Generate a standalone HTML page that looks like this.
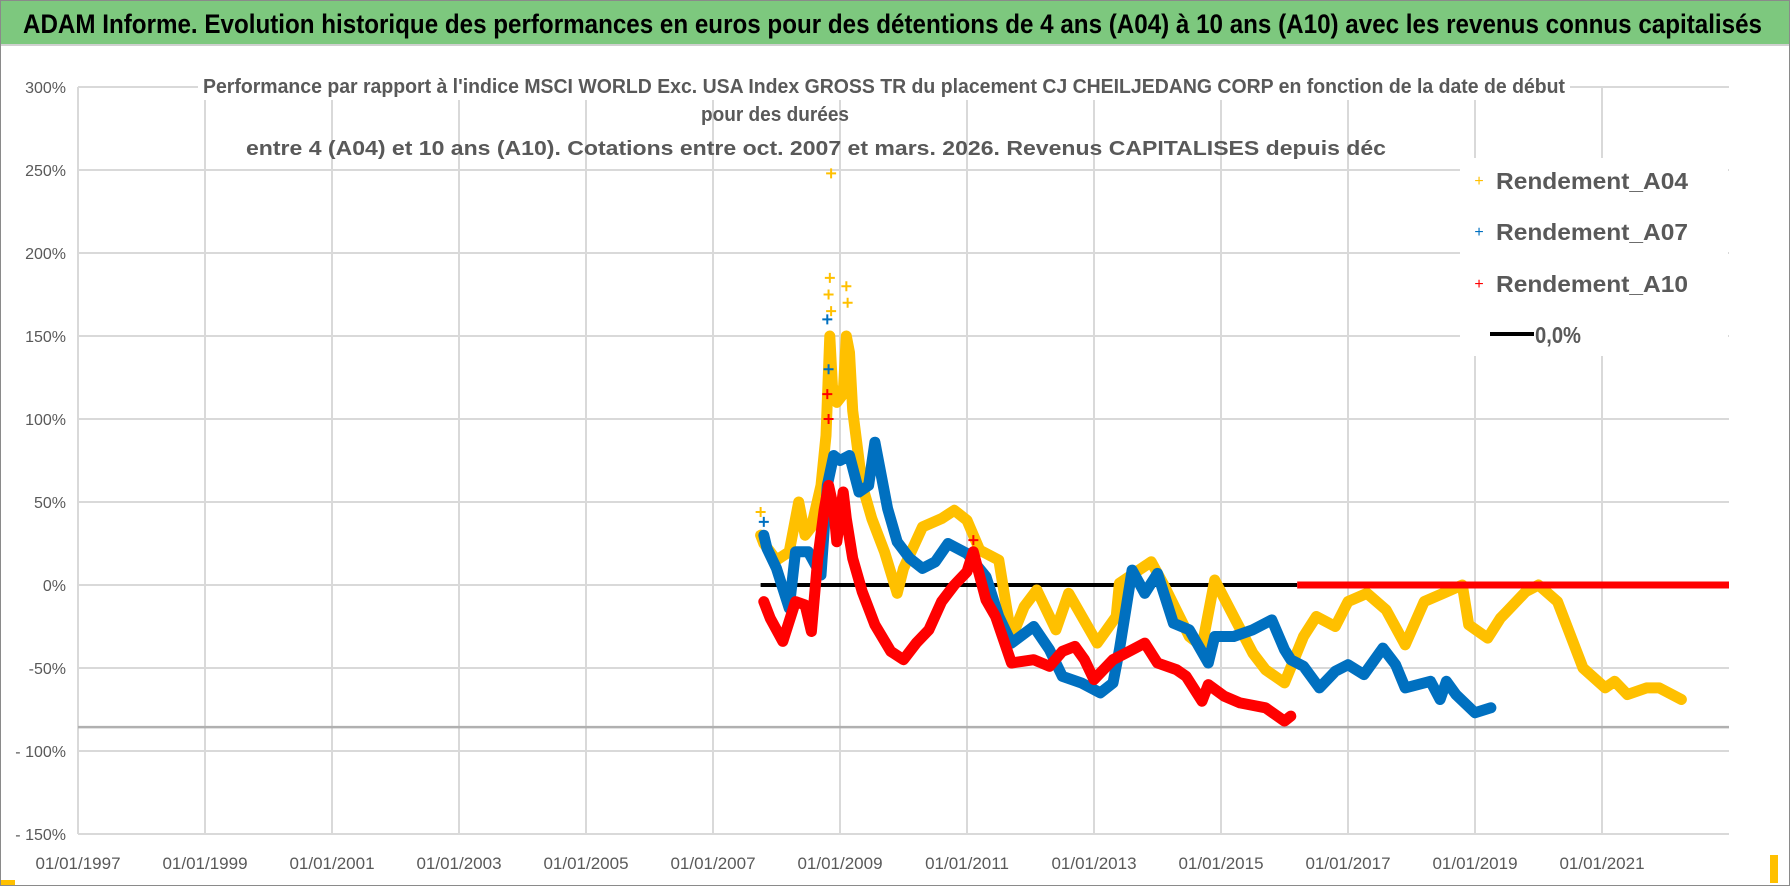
<!DOCTYPE html>
<html><head><meta charset="utf-8"><style>
html,body{margin:0;padding:0;background:#fff}
svg{display:block}
text{font-family:"Liberation Sans Narrow","Liberation Sans",sans-serif}
</style></head><body>
<svg id="chart" width="1790" height="886" viewBox="0 0 1790 886" xmlns="http://www.w3.org/2000/svg">
<rect x="0.5" y="0.5" width="1789" height="885" fill="#fff" stroke="#8a8a8a"/>
<rect x="1" y="1" width="1788" height="43" fill="#7dc87e"/>
<line x1="1" y1="45" x2="1789" y2="45" stroke="#d0d0d0" stroke-width="2"/>
<text x="23" y="33" font-size="27" font-weight="bold" fill="#000" textLength="1739" lengthAdjust="spacingAndGlyphs">ADAM Informe. Evolution historique des performances en euros pour des détentions de 4 ans (A04) à 10 ans (A10) avec les revenus connus capitalisés</text>
<g id="grid"></g>
<g id="yaxis"></g>
<g id="xaxis"></g>
<g id="series"></g>
<g>
<rect x="198" y="72" width="1372" height="28" fill="#fff"/>
<text x="203" y="93" font-size="20" font-weight="bold" fill="#595959" textLength="1362" lengthAdjust="spacingAndGlyphs">Performance par rapport à l'indice MSCI WORLD Exc. USA Index GROSS TR  du placement CJ CHEILJEDANG CORP en fonction de la date de début</text>
<text x="775" y="121" font-size="20" font-weight="bold" fill="#595959" text-anchor="middle" textLength="148" lengthAdjust="spacingAndGlyphs">pour des durées</text>
<text x="246" y="155" font-size="20" font-weight="bold" fill="#595959" textLength="1140" lengthAdjust="spacingAndGlyphs">entre 4 (A04) et 10 ans (A10).  Cotations entre oct. 2007 et mars. 2026. Revenus CAPITALISES depuis déc</text>
</g>
<g>
<rect x="1460" y="158" width="268" height="198" fill="#fff"/>
<g><text x="1479" y="186" font-size="16" fill="#ffc000" text-anchor="middle">+</text><text x="1496" y="189" font-size="23" font-weight="bold" fill="#595959" textLength="192" lengthAdjust="spacingAndGlyphs">Rendement_A04</text></g>
<g><text x="1479" y="237" font-size="16" fill="#0070c0" text-anchor="middle">+</text><text x="1496" y="240" font-size="23" font-weight="bold" fill="#595959" textLength="192" lengthAdjust="spacingAndGlyphs">Rendement_A07</text></g>
<g><text x="1479" y="289" font-size="16" fill="#ff0000" text-anchor="middle">+</text><text x="1496" y="292" font-size="23" font-weight="bold" fill="#595959" textLength="192" lengthAdjust="spacingAndGlyphs">Rendement_A10</text></g>
<g><line x1="1490" y1="334" x2="1534" y2="334" stroke="#000" stroke-width="4"/><text x="1535" y="343" font-size="23" font-weight="bold" fill="#595959" textLength="46" lengthAdjust="spacingAndGlyphs">0,0%</text></g>
</g>
<rect x="1770" y="855" width="8" height="28" fill="#ffc000"/>
<rect x="1" y="880" width="14" height="5" fill="#ffc000"/>
</svg>
<script>
// ---- data ----
const yTicks = [300,250,200,150,100,50,0,-50,-100,-150];
const yTickLabels = ["300%","250%","200%","150%","100%","50%","0%","-50%","- 100%","- 150%"];
const xTickYears = [1997,1999,2001,2003,2005,2007,2009,2011,2013,2015,2017,2019,2021];
const xTickLabels = ["01/01/1997","01/01/1999","01/01/2001","01/01/2003","01/01/2005","01/01/2007","01/01/2009","01/01/2011","01/01/2013","01/01/2015","01/01/2017","01/01/2019","01/01/2021"];
const axisCross = -85.6;

const a04Dates = [2007.75,2007.8,2008.0,2008.2,2008.35,2008.45,2008.55,2008.7,2008.78,2008.84,2008.88,2008.95,2009.05,2009.1,2009.15,2009.2,2009.35,2009.5,2009.7,2009.9,2010.0,2010.3,2010.6,2010.8,2011.0,2011.2,2011.5,2011.7,2011.9,2012.1,2012.4,2012.6,2013.05,2013.35,2013.4,2013.9,2014.1,2014.5,2014.7,2014.9,2015.2,2015.5,2015.7,2016.0,2016.3,2016.5,2016.8,2017.0,2017.3,2017.6,2017.9,2018.2,2018.5,2018.8,2018.9,2019.2,2019.4,2019.5,2019.8,2020.0,2020.3,2020.7,2021.05,2021.2,2021.4,2021.7,2021.9,2022.25];
const a04Values = [30,25,15,20,50,30,35,60,90,150,120,110,115,150,140,105,60,40,20,-5,10,35,40,45,39,21,15,-32,-13,-3,-27,-5,-35,-19,1,14,0,-31,-37,3,-19,-41,-51,-59,-31,-19,-25,-10,-5,-15,-36,-10,-5,0,-24,-32,-20,-16,-4,0,-10,-50,-62,-58,-66,-62,-62,-69];
const a04OutDates = [2007.75,2008.82,2008.84,2008.86,2009.1,2009.12,2008.86];
const a04OutValues = [44,175,185,165,180,170,248];

const a07Dates = [2007.8,2007.85,2008.0,2008.2,2008.3,2008.5,2008.7,2008.8,2008.9,2009.0,2009.15,2009.3,2009.45,2009.55,2009.75,2009.9,2010.1,2010.3,2010.5,2010.7,2011.0,2011.3,2011.5,2011.7,2012.05,2012.3,2012.5,2012.8,2013.1,2013.3,2013.4,2013.5,2013.6,2013.8,2014.0,2014.25,2014.5,2014.8,2014.9,2015.2,2015.5,2015.8,2016.0,2016.1,2016.3,2016.55,2016.8,2017.0,2017.25,2017.4,2017.55,2017.75,2017.9,2018.3,2018.45,2018.55,2018.7,2019.0,2019.25];
const a07Values = [30,22,10,-14,20,20,6,60,78,75,78,56,60,86,46,26,16,10,14,25,19,5,-19,-35,-25,-39,-55,-59,-65,-59,-39,-15,9,-5,7,-23,-27,-47,-31,-31,-27,-21,-39,-45,-49,-62,-52,-48,-54,-46,-38,-48,-62,-58,-69,-58,-66,-77,-74];
const a07OutDates = [2007.8,2008.8,2008.82];
const a07OutValues = [38,160,130];

const a10Dates = [2007.8,2007.9,2008.1,2008.3,2008.45,2008.55,2008.65,2008.75,2008.82,2008.9,2008.95,2009.05,2009.1,2009.2,2009.35,2009.55,2009.8,2010.0,2010.2,2010.4,2010.6,2010.8,2011.0,2011.1,2011.3,2011.45,2011.7,2012.05,2012.3,2012.5,2012.7,2012.85,2013.0,2013.3,2013.5,2013.8,2014.0,2014.3,2014.45,2014.7,2014.8,2015.05,2015.3,2015.7,2016.0,2016.1];
const a10Values = [-10,-20,-34,-10,-12,-28,16,45,60,46,26,56,40,16,-4,-24,-40,-45,-35,-27,-10,0,8,20,-9,-19,-47,-45,-49,-40,-37,-45,-57,-45,-41,-35,-47,-51,-55,-70,-60,-67,-71,-74,-82,-79];
const a10OutDates = [2008.8,2008.82,2011.1];
const a10OutValues = [115,100,27];

const a10ZeroRange = [2016.2, 2023.0];
const zeroLineRange = [2007.75, 2016.2];

// ---- scales ----
const X0 = 78, PX_PER_YEAR = 63.5, Y0 = 585, PX_PER_PCT = 83/50;
const xS = y => X0 + (y - 1997) * PX_PER_YEAR;
const yS = v => Y0 - v * PX_PER_PCT;
const NS = "http://www.w3.org/2000/svg";
function mk(tag, attrs, parent){const e=document.createElementNS(NS,tag);for(const k in attrs)e.setAttribute(k,attrs[k]);parent.appendChild(e);return e;}

const grid = document.getElementById('grid'), yax = document.getElementById('yaxis'), xax = document.getElementById('xaxis'), ser = document.getElementById('series');
const xRight = xS(2023);
yTicks.forEach((t,i)=>{
  const l = mk('line',{x1:X0,x2:xRight,y1:yS(t),y2:yS(t),stroke:'#d9d9d9','stroke-width':2},grid);
  
  
  const tx = mk('text',{x:66,y:yS(t)+6,'font-size':16,fill:'#595959','text-anchor':'end'},yax);
  tx.textContent = yTickLabels[i];
  
  
});
xTickYears.forEach((yr,i)=>{
  const l = mk('line',{x1:xS(yr),x2:xS(yr),y1:yS(300),y2:yS(-150),stroke:'#d9d9d9','stroke-width':2},grid);
  
  
  const tx = mk('text',{x:xS(yr),y:869,'font-size':17,fill:'#595959','text-anchor':'middle'},xax);
  tx.textContent = xTickLabels[i];
  
  
});
const ax = mk('line',{x1:X0,x2:xRight,y1:yS(axisCross),y2:yS(axisCross),stroke:'#b0b0b0','stroke-width':2.5},xax);



function plus(g,x,y,color,name){
  const p = mk('path',{d:`M${x-5},${y}H${x+5}M${x},${y-5}V${y+5}`,stroke:color,'stroke-width':2},g);
  
  
}
function drawSeries(dates, vals, oDates, oVals, color, name){
  const g = mk('g',{},ser);
  
  
  const pts = dates.map((d,i)=>xS(d).toFixed(1)+','+yS(vals[i]).toFixed(1)).join(' ');
  mk('polyline',{points:pts,fill:'none',stroke:color,'stroke-width':11,'stroke-linejoin':'round','stroke-linecap':'round'},g);
  dates.forEach((d,i)=>plus(g,xS(d),yS(vals[i]),color,name));
  oDates.forEach((d,i)=>plus(g,xS(d),yS(oVals[i]),color,name));
}
const zl = mk('line',{x1:xS(zeroLineRange[0]),x2:xS(zeroLineRange[1]),y1:yS(0),y2:yS(0),stroke:'#000','stroke-width':4},ser);


drawSeries(a04Dates,a04Values,a04OutDates,a04OutValues,'#ffc000','series-a04');
drawSeries(a07Dates,a07Values,a07OutDates,a07OutValues,'#0070c0','series-a07');
drawSeries(a10Dates,a10Values,a10OutDates,a10OutValues,'#ff0000','series-a10');
const rz = mk('line',{x1:xS(a10ZeroRange[0]),x2:xS(a10ZeroRange[1]),y1:yS(0),y2:yS(0),stroke:'#ff0000','stroke-width':7},ser);


</script>
</body></html>
